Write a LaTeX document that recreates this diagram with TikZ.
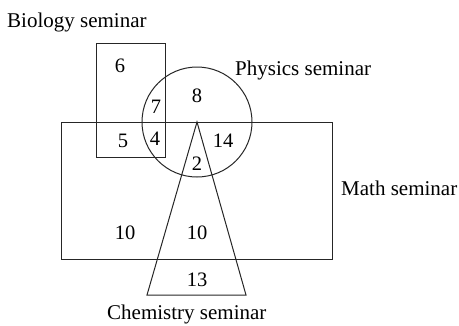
\documentclass[tikz,border=0pt]{standalone}
\usepackage{fontspec}
\setmainfont{Liberation Serif}
\usepackage{tikz}
\tikzset{
  setln/.style={draw=black!85,line width=1pt},
  num/.style={inner sep=0pt,anchor=base,font=\fontsize{20.5}{24}\selectfont},
  lab/.style={inner sep=0pt,anchor=base west,font=\fontsize{21}{24}\selectfont},
}

\begin{document}
\begin{tikzpicture}[x=1pt,y=-1pt]
\useasboundingbox (0,0) rectangle (459,325);
% sets
\draw[setln] (96,43) rectangle (165,157);
\draw[setln] (61,122) rectangle (332,259);
\draw[setln] (197,122) circle (55);
\draw[setln] (197,122) -- (246,295) -- (147,295) -- cycle;
% set names
\node[lab] (bio) at (7,27) {Biology seminar};
\node[lab] (phys) at (235,75) {Physics seminar};
\node[lab] (math) at (341,195) {Math seminar};
\node[lab] (chem) at (107,319.5) {Chemistry seminar};
% counts
\node[num] (n6) at (120,72) {6};
\node[num] (n8) at (197,102) {8};
\node[num] (n7) at (156,113) {7};
\node[num] (n5) at (123,147) {5};
\node[num] (n4) at (155,145) {4};
\node[num] (n14) at (223,147) {14};
\node[num] (n2) at (197,170) {2};
\node[num] (n10a) at (125,239) {10};
\node[num] (n10b) at (197,239) {10};
\node[num] (n13) at (197,286) {13};
\end{tikzpicture}
\end{document}
